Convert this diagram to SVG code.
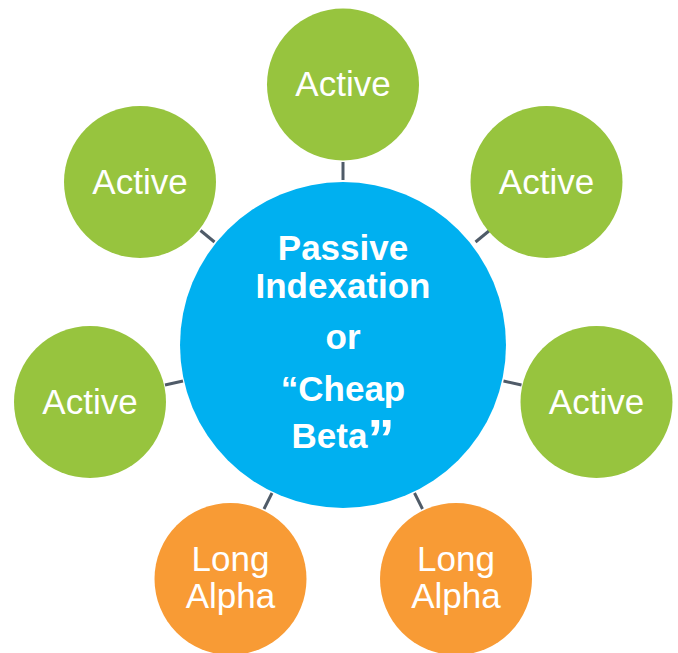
<svg xmlns="http://www.w3.org/2000/svg" width="678" height="653" viewBox="0 0 678 653">
<style>
.g{fill:#97c43e}
.o{fill:#f89b35}
.b{fill:#00b0f0}
.t{font-family:"Liberation Sans",Arial,sans-serif;font-size:35px;fill:#fff;text-anchor:middle}
.tb{font-family:"Liberation Sans",Arial,sans-serif;font-size:35px;font-weight:bold;fill:#fff;text-anchor:middle}
.c{stroke:#4f5b68;stroke-width:3;fill:none}
</style>
<rect width="678" height="653" fill="#fff"/>
<g id="connectors">
<line class="c" x1="343" y1="162" x2="343" y2="180"/>
<line class="c" x1="200.5" y1="230.5" x2="214.5" y2="242"/>
<line class="c" x1="489.5" y1="230.5" x2="475.5" y2="242"/>
<line class="c" x1="165" y1="385" x2="183" y2="381"/>
<line class="c" x1="521.5" y1="385" x2="503.5" y2="381"/>
<line class="c" x1="264" y1="509" x2="272" y2="493"/>
<line class="c" x1="422.5" y1="509" x2="414.5" y2="493"/>
</g>
<g id="center">
<circle class="b" cx="343" cy="345" r="163"/>
<text class="tb" x="343" y="260">Passive</text>
<text class="tb" x="343" y="298">Indexation</text>
<text class="tb" x="343" y="349">or</text>
<text class="tb" x="343" y="401">“Cheap</text>
<text class="tb" x="343" y="448">Beta<tspan font-size="54" dy="9">”</tspan></text>
</g>
<g id="active-top">
<circle class="g" cx="343" cy="84.5" r="76"/>
<text class="t" x="343" y="96">Active</text>
</g>
<g id="active-top-left">
<circle class="g" cx="140" cy="182" r="76"/>
<text class="t" x="140" y="194">Active</text>
</g>
<g id="active-top-right">
<circle class="g" cx="546.5" cy="182" r="76"/>
<text class="t" x="546.5" y="194">Active</text>
</g>
<g id="active-left">
<circle class="g" cx="90" cy="402" r="76"/>
<text class="t" x="90" y="414">Active</text>
</g>
<g id="active-right">
<circle class="g" cx="596.5" cy="402" r="76"/>
<text class="t" x="596.5" y="414">Active</text>
</g>
<g id="long-alpha-left">
<circle class="o" cx="230.5" cy="579" r="76"/>
<text class="t" x="230.5" y="571">Long</text>
<text class="t" x="230.5" y="608">Alpha</text>
</g>
<g id="long-alpha-right">
<circle class="o" cx="456" cy="579" r="76"/>
<text class="t" x="456" y="571">Long</text>
<text class="t" x="456" y="608">Alpha</text>
</g>
</svg>
